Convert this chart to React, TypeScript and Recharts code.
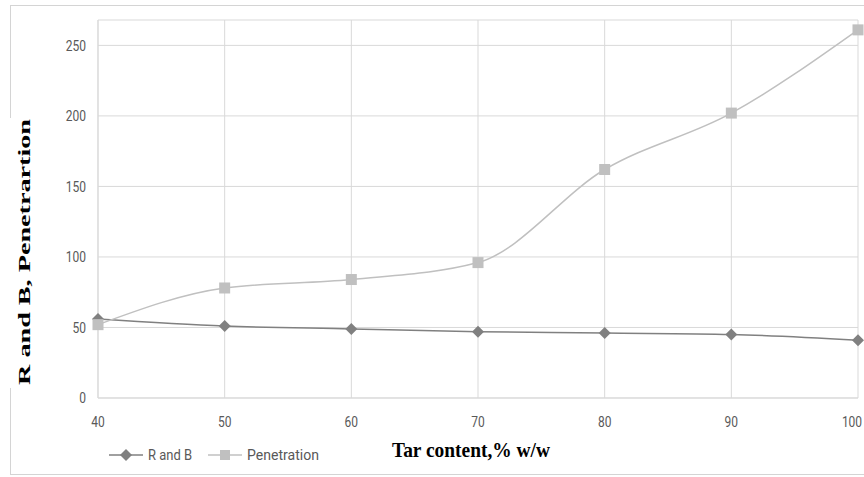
import React from 'react';
import { LineChart, Line, XAxis, YAxis, CartesianGrid } from 'recharts';

const tarContent = [40, 50, 60, 70, 80, 90, 100];
const rAndB = [56, 51, 49, 47, 46, 45, 41];
const penetration = [52, 78, 84, 96, 162, 202, 261];
const yTicks = [0, 50, 100, 150, 200, 250];

const data = tarContent.map((t, i) => ({
  tar: t,
  rb: rAndB[i],
  pen: penetration[i],
}));

const DARK = '#808080';
const LIGHT = '#c0c0c0';
const TICK_COLOR = '#595959';
const tickFont = "Roboto, 'Liberation Sans', sans-serif";
const titleFont = "'Liberation Serif', 'Times New Roman', serif";

// narrow tick text (condensed look)
const YTick = (props: any) => {
  const { x, y, payload } = props;
  return (
    <g transform={`translate(${x},${y}) scale(0.8,1)`}>
      <text x={0} y={0} dy="0.36em" textAnchor="end" fontFamily={tickFont} fontSize={15} fill={TICK_COLOR}>
        {payload.value}
      </text>
    </g>
  );
};

const XTick = (props: any) => {
  const { x, y, payload } = props;
  return (
    <g transform={`translate(${x},${y}) scale(0.8,1)`}>
      <text x={0} y={0} dy="0.71em" textAnchor="middle" fontFamily={tickFont} fontSize={15} fill={TICK_COLOR}>
        {payload.value}
      </text>
    </g>
  );
};

const Diamond = (props: any) => {
  const { cx, cy } = props;
  if (cx == null || cy == null) return null;
  const r = 6;
  return (
    <path
      key={`d-${cx}`}
      d={`M${cx},${cy - r} L${cx + r},${cy} L${cx},${cy + r} L${cx - r},${cy} Z`}
      fill={DARK}
    />
  );
};

const Square = (props: any) => {
  const { cx, cy } = props;
  if (cx == null || cy == null) return null;
  const s = 5.5;
  return <rect key={`s-${cx}`} x={cx - s} y={cy - s} width={s * 2} height={s * 2} fill={LIGHT} />;
};

const YTitle = () => (
  <g>
    <rect x={0} y={118} width={50} height={270} fill="#fff" />
    <text
      x={30}
      y={252}
      transform="rotate(-90, 30, 252)"
      textAnchor="middle"
      fontFamily={titleFont}
      fontWeight="bold"
      fontSize={17}
      textLength={266}
      lengthAdjust="spacingAndGlyphs"
      fill="#000"
    >
      R and B, Penetrartion
    </text>
  </g>
);

const XTitle = () => (
  <text
    x={392}
    y={457}
    fontFamily={titleFont}
    fontWeight="bold"
    fontSize={21}
    textLength={158}
    lengthAdjust="spacingAndGlyphs"
    fill="#000"
  >
    Tar content,% w/w
  </text>
);

// legend drawn beside the x title
const ChartLegend = () => (
  <svg width={864} height={477} style={{ position: 'absolute', left: 0, top: 0, pointerEvents: 'none' }}>
    <line x1={109} y1={455} x2={143} y2={455} stroke={DARK} strokeWidth={1.5} />
    <path d="M126,449 L132,455 L126,461 L120,455 Z" fill={DARK} />
    <text x={148} y={460} fontFamily={tickFont} fontSize={15} fill={TICK_COLOR} textLength={44} lengthAdjust="spacingAndGlyphs">
      R and B
    </text>
    <line x1={208} y1={455} x2={242} y2={455} stroke={LIGHT} strokeWidth={1.5} />
    <rect x={220} y={450} width={10} height={10} fill={LIGHT} />
    <text x={247} y={460} fontFamily={tickFont} fontSize={15} fill={TICK_COLOR} textLength={72} lengthAdjust="spacingAndGlyphs">
      Penetration
    </text>
  </svg>
);

export default function App() {
  return (
    <div style={{ position: 'absolute', left: 0, top: 0, width: 864, height: 477, background: '#fff', overflow: 'hidden' }}>
      <div
        style={{
          position: 'absolute',
          left: 10,
          top: 5,
          width: 880,
          height: 468,
          border: '1px solid #d4d4d4',
        }}
      />
      <LineChart
        width={864}
        height={477}
        data={data}
        margin={{ top: 20, right: 6, left: 0, bottom: 0 }}
        style={{ position: 'absolute', left: 0, top: 0 }}
      >
        <CartesianGrid stroke="#d9d9d9" strokeWidth={1} />
        <XAxis
          dataKey="tar"
          type="number"
          domain={[40, 100]}
          ticks={tarContent}
          height={79}
          tickSize={0}
          tickMargin={18}
          axisLine={{ stroke: '#d9d9d9' }}
          tick={<XTick />}
          label={<XTitle />}
        />
        <YAxis
          type="number"
          domain={[0, 268]}
          ticks={yTicks}
          width={98}
          tickSize={0}
          tickMargin={12}
          axisLine={{ stroke: '#d9d9d9' }}
          tick={<YTick />}
          label={<YTitle />}
        />
        <Line
          dataKey="rb"
          name="R and B"
          type="monotone"
          stroke={DARK}
          strokeWidth={1.5}
          dot={<Diamond />}
          isAnimationActive={false}
        />
        <Line
          dataKey="pen"
          name="Penetration"
          type="monotone"
          stroke={LIGHT}
          strokeWidth={1.5}
          dot={<Square />}
          isAnimationActive={false}
        />
      </LineChart>
      <ChartLegend />
    </div>
  );
}
